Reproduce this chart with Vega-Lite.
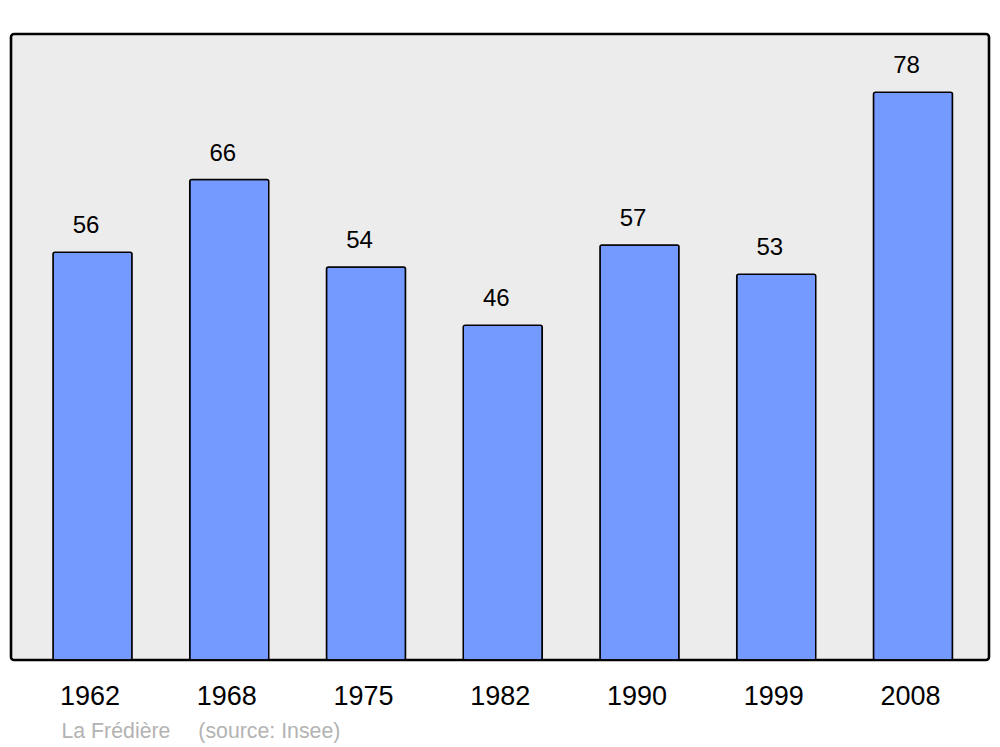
{
  "$schema": "https://vega.github.io/schema/vega-lite/v6.json",
  "width": 978,
  "height": 626,
  "autosize": {"type": "none"},
  "padding": {"left": 11, "top": 34, "right": 11, "bottom": 87},
  "background": "white",
  "config": {
    "view": {"fill": "#ececec", "stroke": "#000000", "strokeWidth": 2.6, "cornerRadius": 3},
    "font": "Liberation Sans"
  },
  "data": {
    "values": [
      {"year": "1962", "pop": 56},
      {"year": "1968", "pop": 66},
      {"year": "1975", "pop": 54},
      {"year": "1982", "pop": 46},
      {"year": "1990", "pop": 57},
      {"year": "1999", "pop": 53},
      {"year": "2008", "pop": 78}
    ]
  },
  "encoding": {
    "x": {
      "field": "year",
      "type": "nominal",
      "sort": null,
      "scale": {"paddingInner": 0.422, "paddingOuter": 0.287, "align": 0.535},
      "axis": {
        "title": "La Frédière\u00a0\u00a0\u00a0\u00a0\u2009(source: Insee)",
        "titleFont": "Liberation Sans",
        "titleFontSize": 21.3,
        "titleFontWeight": "normal",
        "titleColor": "#b3b3b3",
        "titleAnchor": "start",
        "titleAlign": "left",
        "titleBaseline": "alphabetic",
        "titleX": 50,
        "titleY": 77,
        "labelAngle": 0,
        "labelFontSize": 27,
        "labelColor": "#000000",
        "labelPadding": 23,
        "labelBaseline": "top",
        "labelOffset": -2.5,
        "domain": false,
        "ticks": false,
        "grid": false
      }
    },
    "y": {
      "field": "pop",
      "type": "quantitative",
      "scale": {"domain": [0, 86], "nice": false, "zero": true},
      "axis": null
    }
  },
  "layer": [
    {
      "mark": {"type": "bar", "fill": "#7499ff", "stroke": "#000000", "strokeWidth": 1.5, "cornerRadius": 2}
    },
    {
      "mark": {"type": "text", "fontSize": 24, "color": "#000000", "baseline": "alphabetic", "dy": -19, "dx": -6.5, "align": "center"},
      "encoding": {"text": {"field": "pop", "type": "quantitative"}}
    }
  ]
}
